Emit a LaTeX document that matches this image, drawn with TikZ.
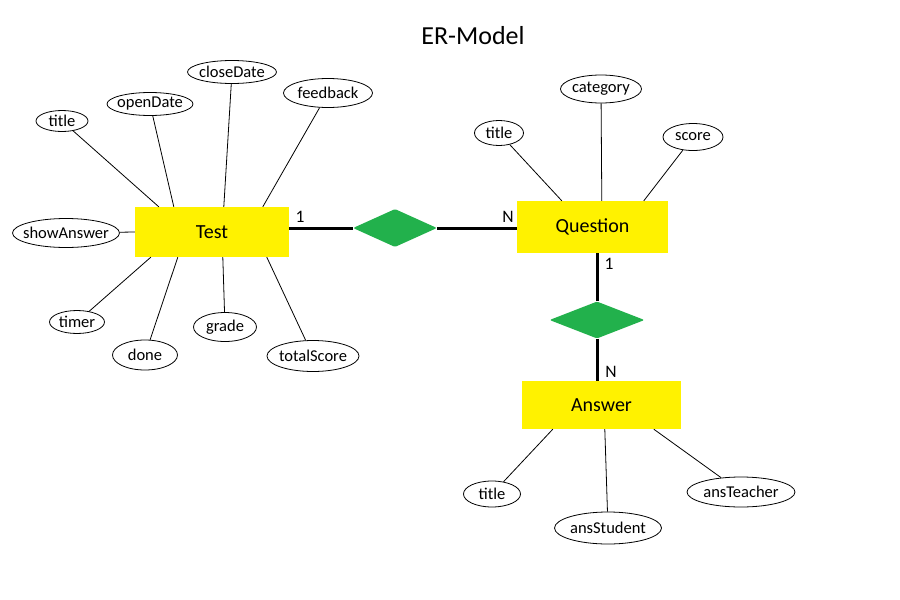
\documentclass[tikz,border=0pt]{standalone}
\usepackage{fontspec}
\setmainfont{Carlito}
\usetikzlibrary{shapes.geometric}
\usetikzlibrary{calc}
\definecolor{entyellow}{RGB}{255,242,0}
\definecolor{relgreen}{RGB}{34,177,76}
\newcommand{\attrname}[1]{\makebox[0pt]{#1}}

\begin{document}
\begin{tikzpicture}[x=1pt,y=-1pt,
entity/.style={rectangle,fill=entyellow,inner sep=0pt,font=\fontsize{20}{24}\selectfont},
attr/.style={ellipse,draw=black,line width=0.8pt,fill=white,inner sep=0pt,font=\fontsize{16.5}{20}\selectfont},
relation/.style={diamond,fill=relgreen,inner sep=0pt,rounded corners=1.5pt},
attrline/.style={black,line width=0.8pt},
relline/.style={black,line width=3pt},
card/.style={font=\fontsize{17.5}{20}\selectfont,text=black,inner sep=0pt}]
\useasboundingbox[fill=white] (0,0) rectangle (900,600);

\node[font=\fontsize{26}{30}\selectfont] (title) at (473,36) {ER-Model};

% entities and relations
\node[entity,minimum width=154pt,minimum height=50pt] (test) at (212,232) {Test};
\node[entity,minimum width=151pt,minimum height=52pt] (question) at (592.5,227) {Question};
\node[entity,minimum width=159pt,minimum height=48pt] (answer) at (601.5,405) {Answer};
\node[relation,minimum width=84pt,minimum height=38pt] (relTQ) at (395,228) {};
\node[relation,minimum width=95pt,minimum height=37pt] (relQA) at (597,320) {};

% attributes of Test
\node[attr,minimum width=52pt,minimum height=21pt] (tTitle) at (62,121) {\attrname{title}};
\node[attr,minimum width=86pt,minimum height=23pt] (tOpen) at (150,104) {\attrname{openDate}};
\node[attr,minimum width=89pt,minimum height=23pt] (tClose) at (232,72) {\attrname{closeDate}};
\node[attr,minimum width=89pt,minimum height=29pt] (tFeedback) at (328,93) {\attrname{feedback}};
\node[attr,minimum width=107pt,minimum height=29pt] (tShow) at (66,233) {\attrname{showAnswer}};
\node[attr,minimum width=55pt,minimum height=23pt] (tTimer) at (77,322) {\attrname{timer}};
\node[attr,minimum width=65pt,minimum height=30pt] (tDone) at (145,355) {\attrname{done}};
\node[attr,minimum width=63pt,minimum height=29pt] (tGrade) at (225,327) {\attrname{grade}};
\node[attr,minimum width=92pt,minimum height=31pt] (tTotal) at (313,356) {\attrname{totalScore}};

% attributes of Question
\node[attr,minimum width=49pt,minimum height=25pt] (qTitle) at (499,133) {\attrname{title}};
\node[attr,minimum width=81pt,minimum height=28pt] (qCategory) at (601,89) {\attrname{category}};
\node[attr,minimum width=60pt,minimum height=27pt] (qScore) at (693,137) {\attrname{score}};

% attributes of Answer
\node[attr,minimum width=57pt,minimum height=26pt] (aTitle) at (492,494) {\attrname{title}};
\node[attr,minimum width=107pt,minimum height=32pt] (aStudent) at (608,528) {\attrname{ansStudent}};
\node[attr,minimum width=108pt,minimum height=30pt] (aTeacher) at (741,492) {\attrname{ansTeacher}};

\draw[attrline] (tTitle) -- ($(test.north west)+(24,0)$);
\draw[attrline] (tOpen) -- ($(test.north west)+(39,0)$);
\draw[attrline] (tClose) -- ($(test.north west)+(89,0)$);
\draw[attrline] (tFeedback) -- ($(test.north west)+(128,0)$);
\draw[attrline] (tShow) -- (test.west);
\draw[attrline] (tTimer) -- ($(test.south west)+(16,0)$);
\draw[attrline] (tDone) -- ($(test.south west)+(43,0)$);
\draw[attrline] (tGrade) -- ($(test.south west)+(88,0)$);
\draw[attrline] (tTotal) -- ($(test.south west)+(132,0)$);

\draw[attrline] (qTitle) -- ($(question.north west)+(45,0)$);
\draw[attrline] (qCategory) -- ($(question.north west)+(85,0)$);
\draw[attrline] (qScore) -- ($(question.north west)+(127,0)$);

\draw[attrline] (aTitle) -- ($(answer.south west)+(31,0)$);
\draw[attrline] (aStudent) -- ($(answer.south west)+(83,0)$);
\draw[attrline] (aTeacher) -- ($(answer.south west)+(132,0)$);

% relationship lines
\draw[relline] (relTQ.west) -- (relTQ.west -| test.east);
\draw[relline] (relTQ.east) -- (relTQ.east -| question.west);
\draw[relline] (relQA.north) -- (relQA.north |- question.south);
\draw[relline] (relQA.south) -- (relQA.south |- answer.north);

\node[card] (cTest) at (300,217) {1};
\node[card] (cQuestionL) at (508,217) {N};
\node[card] (cQuestionB) at (609,264) {1};
\node[card] (cAnswer) at (611,372) {N};

\end{tikzpicture}
\end{document}
